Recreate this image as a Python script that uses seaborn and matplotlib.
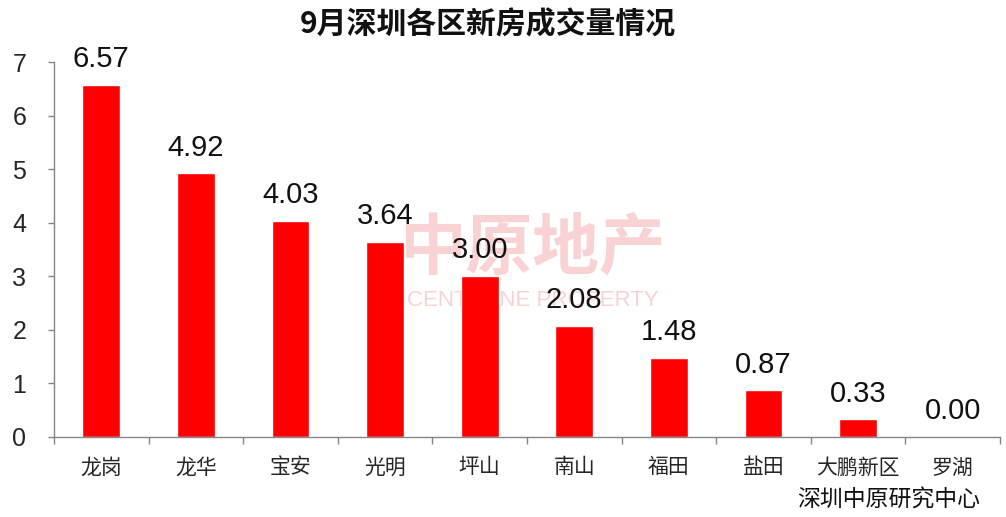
import matplotlib
matplotlib.use("Agg")
import matplotlib.pyplot as plt
import seaborn as sns
import pandas as pd
import numpy as np

districts = ["龙岗", "龙华", "宝安", "光明", "坪山", "南山", "福田", "盐田", "大鹏新区", "罗湖"]
values = [6.57, 4.92, 4.03, 3.64, 3.00, 2.08, 1.48, 0.87, 0.33, 0.00]
yticks = [0, 1, 2, 3, 4, 5, 6, 7]
title = "9月深圳各区新房成交量情况"
source = "深圳中原研究中心"

sns.set_theme(style="white")
plt.rcParams['font.family'] = ['Liberation Sans', 'Noto Sans CJK SC', 'DejaVu Sans']

df = pd.DataFrame({"district": districts, "value": values})

fig = plt.figure(figsize=(10.06, 5.17), dpi=100)
ax = fig.add_axes([54/1006, 1 - 437/517, 946/1006, (437 - 62)/517])
ax.patch.set_alpha(0)

sns.barplot(data=df, x="district", y="value", color="#FF0000", width=0.4,
            saturation=1, ax=ax, zorder=2)

ax.set_ylim(0, 7)
ax.set_xlim(-0.5, 9.5)
ax.set_yticks(yticks)
ax.set_yticklabels([str(t) for t in yticks], fontsize=18, family=['Liberation Sans'])
ax.set_xlabel("")
ax.set_ylabel("")
ax.tick_params(axis='y', length=4, width=1, color="#868686", pad=16, left=True)
ax.tick_params(axis='x', which='major', length=0, pad=14, labelsize=15)
ax.set_xticks(np.arange(-0.5, 10, 1), minor=True)
ax.tick_params(axis='x', which='minor', length=5, width=1, color="#868686", bottom=True)
for lbl in ax.get_xticklabels():
    lbl.set_family(['Noto Sans CJK SC'])

for side in ["top", "right"]:
    ax.spines[side].set_visible(False)
for side in ["left", "bottom"]:
    ax.spines[side].set_color("#868686")
    ax.spines[side].set_linewidth(1)

for i, v in enumerate(values):
    ax.text(i, v + 0.22, f"{v:.2f}", ha="center", va="bottom", fontsize=21,
            family=['Liberation Sans'], color="#111111", zorder=5)

# watermark (behind bars)
ax.text(532/1006, 1 - 249/517, "中原地产", fontsize=48, fontweight='bold',
        color="#F9D3D3", ha="center", va="center", zorder=0,
        family=['Noto Sans CJK SC'], transform=fig.transFigure)
ax.text(533/1006, 1 - 300/517, "CENTALINE PROPERTY", fontsize=16,
        color="#F9D3D3", ha="center", va="center", zorder=0,
        family=['Liberation Sans'], transform=fig.transFigure)

fig.text(488/1006, 1 - 24/517, title, fontsize=21.5, fontweight='bold',
         ha="center", va="center", family=['Noto Sans CJK SC'], color="#111111")
fig.text(980/1006, 1 - 500/517, source, fontsize=16.5, ha="right", va="center",
         family=['Noto Sans CJK SC'], color="#111111")

fig.savefig("out.png", dpi=100)
